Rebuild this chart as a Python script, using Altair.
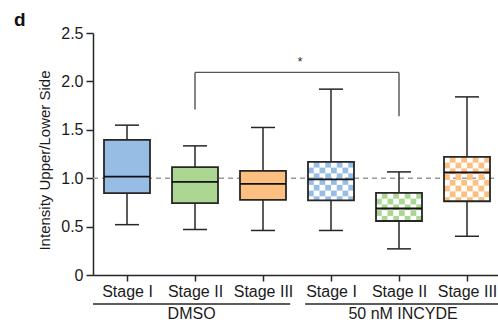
import math
import altair as alt
import pandas as pd

# ---------------- data ----------------
groups = ["DMSO", "DMSO", "DMSO", "50 nM INCYDE", "50 nM INCYDE", "50 nM INCYDE"]
stages = ["Stage I", "Stage II", "Stage III", "Stage I", "Stage II", "Stage III"]
whisker_low = [0.52, 0.47, 0.46, 0.46, 0.27, 0.40]
q1 = [0.845, 0.742, 0.776, 0.770, 0.558, 0.762]
median = [1.017, 0.962, 0.941, 0.987, 0.687, 1.059]
q3 = [1.396, 1.114, 1.075, 1.169, 0.848, 1.220]
whisker_high = [1.548, 1.334, 1.524, 1.920, 1.065, 1.840]
fill_colors = ["#97bde4", "#acd793", "#fdbf80", "#97bde4", "#acd793", "#fdbf80"]
checkered = [False, False, False, True, True, True]

y_ticks = [0, 0.5, 1.0, 1.5, 2.0, 2.5]
ref_level = [1.0]

sig_left = 2      # DMSO Stage II (1-based)
sig_right = 5     # 50 nM INCYDE Stage II
sig_top = [2.093]
sig_left_low = [1.71]
sig_right_low = [1.64]
sig_label = ["*"]

panel_letter = "d"

# ---------------- layout constants ----------------
W, H = 405, 242
X_MIN = 0.5
PX_X = 68.0
X_MAX = X_MIN + W / PX_X
Y_MAX = 2.5
PX_Y = H / Y_MAX
BOX_W, CAP_W, CELL = 46, 24, 5.75
FONT = "Liberation Sans"
TXT = "#1a1a1a"
LINE = "#262626"
FS = 16

n = len(stages)
pos = list(range(1, n + 1))
half_box = BOX_W / 2 / PX_X
half_cap = CAP_W / 2 / PX_X

boxes = pd.DataFrame({
    "pos": pos, "group": groups, "stage": stages,
    "lo": whisker_low, "q1": q1, "med": median, "q3": q3, "hi": whisker_high,
    "fill": fill_colors, "checkered": checkered,
})
boxes["xl"] = boxes["pos"] - half_box
boxes["xr"] = boxes["pos"] + half_box
boxes["cl"] = boxes["pos"] - half_cap
boxes["cr"] = boxes["pos"] + half_cap

# checker cells derived from the box table
cw = CELL / PX_X
ch = CELL / PX_Y
ncols = int(round(BOX_W / CELL))
cell_rows = []
for _, b in boxes[boxes["checkered"]].iterrows():
    nrows = math.ceil((b["q3"] - b["q1"]) / ch - 1e-9)
    for r in range(nrows):
        for c in range(ncols):
            if (r + c) % 2 == 1:
                cell_rows.append({
                    "x": b["xl"] + c * cw,
                    "x2": b["xl"] + (c + 1) * cw,
                    "y": b["q3"] - r * ch,
                    "y2": max(b["q3"] - (r + 1) * ch, b["q1"]),
                    "fill": b["fill"],
                })
cells = pd.DataFrame(cell_rows)

# group table derived from groups list
group_names = list(dict.fromkeys(groups))
grp_rows = []
for g in group_names:
    idx = [p for p, gg in zip(pos, groups) if gg == g]
    first, last = min(idx), max(idx)
    start = first - 0.5 + (0 if first == 1 else 0.12)
    end = last + 0.5 - (0 if last == n else 0.1)
    grp_rows.append({"group": g, "start": start, "end": end, "mid": (start + end) / 2})
grp = pd.DataFrame(grp_rows)

x_scale = alt.Scale(domain=[X_MIN, X_MAX], nice=False, zero=False)
y_scale = alt.Scale(domain=[0, Y_MAX], nice=False, zero=True)

label_arr = "[" + ",".join("'" + s + "'" for s in stages) + "]"
x_axis = alt.Axis(values=pos, labelExpr=label_arr + "[datum.value - 1]", title=None,
                  grid=False, tickSize=6, labelPadding=2, domainColor=LINE, tickColor=LINE,
                  domainWidth=1.5, tickWidth=1.5, labelFontSize=FS, labelColor=TXT,
                  labelFont=FONT, labelOverlap=False, labelFlush=False)
y_axis = alt.Axis(values=y_ticks, labelExpr="datum.value == 0 ? '0' : format(datum.value, '.1f')",
                  title="Intensity Upper/Lower Side", grid=False, tickSize=7, labelPadding=3,
                  domainColor=LINE, tickColor=LINE, domainWidth=1.5, tickWidth=1.5,
                  labelFontSize=FS, titleFontSize=15, titleFontWeight="normal",
                  labelColor=TXT, titleColor=TXT, labelFont=FONT, titleFont=FONT,
                  titleX=-44, titleY=127, titleBaseline="alphabetic", titleAngle=270,
                  titleAlign="center")


def X(field):
    return alt.X(field, scale=x_scale, axis=x_axis)


def Y(field):
    return alt.Y(field, scale=y_scale, axis=y_axis)


base = alt.Chart(boxes)

ref = alt.Chart(pd.DataFrame({"y": ref_level})).mark_rule(
    color="#9a9a9a", strokeDash=[5, 4], strokeWidth=1.5
).encode(y=Y("y:Q"), x=alt.value(0), x2=alt.value(W))

wlo = base.mark_rule(color=LINE, strokeWidth=1.5).encode(
    x=X("pos:Q"), y=Y("lo:Q"), y2="q1:Q")
whi = base.mark_rule(color=LINE, strokeWidth=1.5).encode(
    x=X("pos:Q"), y=Y("q3:Q"), y2="hi:Q")

solid = base.transform_filter("!datum.checkered").mark_rect().encode(
    x=X("xl:Q"), x2="xr:Q", y=Y("q1:Q"), y2="q3:Q",
    color=alt.Color("fill:N", scale=None))

cell_layer = alt.Chart(cells).mark_rect().encode(
    x=X("x:Q"), x2="x2:Q", y=Y("y:Q"), y2="y2:Q",
    color=alt.Color("fill:N", scale=None))

outline = base.mark_rect(fillOpacity=0, stroke=LINE, strokeWidth=1.8).encode(
    x=X("xl:Q"), x2="xr:Q", y=Y("q1:Q"), y2="q3:Q")

med = base.mark_rule(color="#111111", strokeWidth=1.8).encode(
    x=X("xl:Q"), x2="xr:Q", y=Y("med:Q"))

cap_hi = base.mark_rule(color=LINE, strokeWidth=1.5).encode(
    x=X("cl:Q"), x2="cr:Q", y=Y("hi:Q"))
cap_lo = base.mark_rule(color=LINE, strokeWidth=1.5).encode(
    x=X("cl:Q"), x2="cr:Q", y=Y("lo:Q"))

sig = pd.DataFrame({"left": [sig_left], "right": [sig_right], "top": sig_top,
                    "llow": sig_left_low, "rlow": sig_right_low, "label": sig_label})
sig["mid"] = (sig["left"] + sig["right"]) / 2
sbase = alt.Chart(sig)
s_h = sbase.mark_rule(color="#555555", strokeWidth=1.2).encode(
    x=X("left:Q"), x2="right:Q", y=Y("top:Q"))
s_l = sbase.mark_rule(color="#333333", strokeWidth=1.2).encode(
    x=X("left:Q"), y=Y("llow:Q"), y2="top:Q")
s_r = sbase.mark_rule(color="#333333", strokeWidth=1.2).encode(
    x=X("right:Q"), y=Y("rlow:Q"), y2="top:Q")
s_t = sbase.mark_text(fontSize=13, font=FONT, color="#333333", baseline="alphabetic",
                      dy=-6, dx=3).encode(
    x=X("mid:Q"), y=Y("top:Q"), text="label:N")

gbase = alt.Chart(grp)
g_rule = gbase.mark_rule(color=LINE, strokeWidth=1.3).encode(
    x=X("start:Q"), x2="end:Q", y=alt.value(271))
g_text = gbase.mark_text(fontSize=FS, font=FONT, color=TXT, baseline="middle").encode(
    x=X("mid:Q"), y=alt.value(281), text="group:N")

letter = alt.Chart(pd.DataFrame({"t": [panel_letter]})).mark_text(
    fontSize=19, fontWeight="bold", font=FONT, color="#111111", align="left",
    baseline="alphabetic").encode(x=alt.value(-79), y=alt.value(-7), text="t:N")

chart = alt.layer(
    ref, wlo, whi, solid, cell_layer, outline, med, cap_hi, cap_lo,
    s_h, s_l, s_r, s_t, g_rule, g_text, letter
).properties(
    width=W, height=H,
    autosize=alt.AutoSizeParams(type="none"),
    padding={"left": 93, "top": 33, "right": 0, "bottom": 57},
).configure(font=FONT).configure_view(stroke=None)

chart.save("out.html", embed_options={"renderer": "svg", "actions": False})
